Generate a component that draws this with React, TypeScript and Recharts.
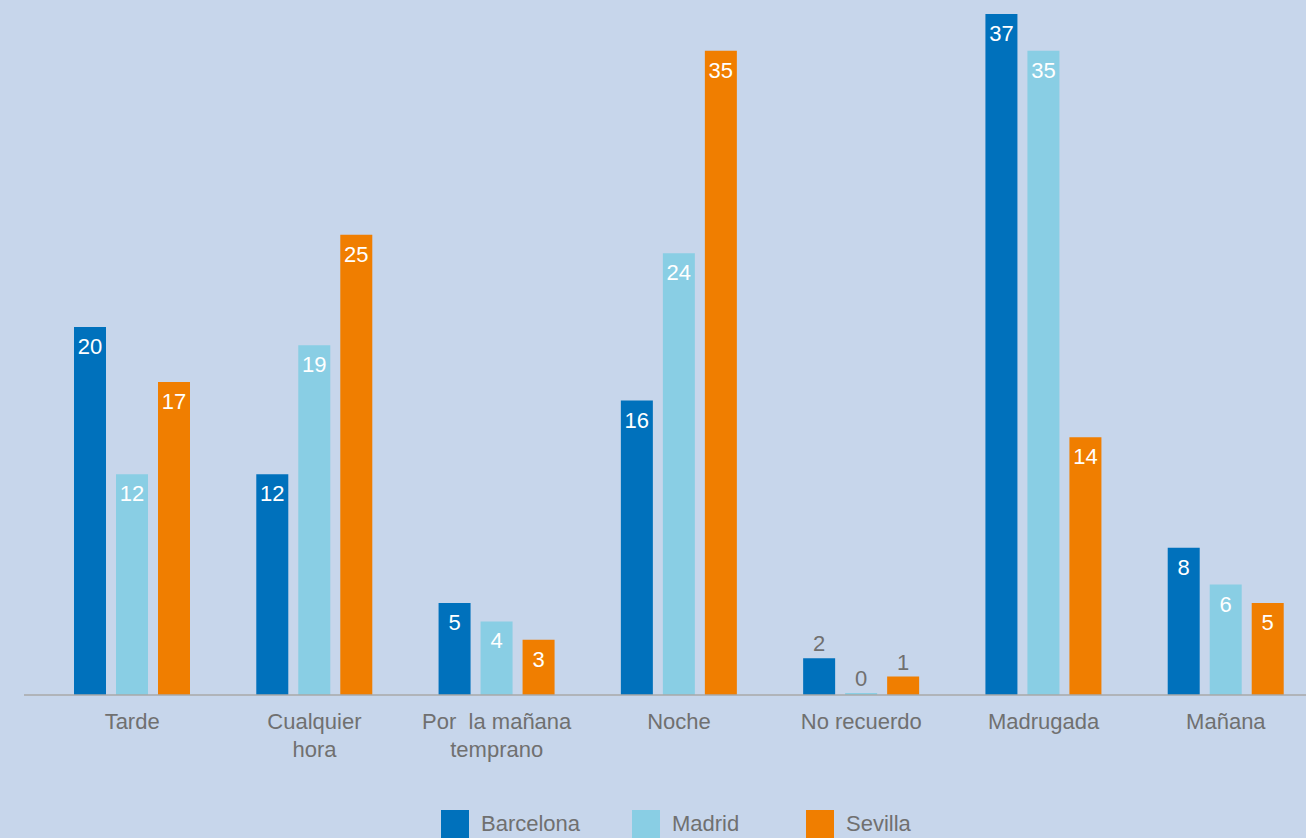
import React from "react";
import { BarChart, Bar, XAxis, YAxis, Legend, LabelList } from "recharts";

const categories = [
  "Tarde",
  "Cualquier\nhora",
  "Por  la mañana\ntemprano",
  "Noche",
  "No recuerdo",
  "Madrugada",
  "Mañana",
];
const barcelona = [20, 12, 5, 16, 2, 37, 8];
const madrid = [12, 19, 4, 24, 0, 35, 6];
const sevilla = [17, 25, 3, 35, 1, 14, 5];
const seriesNames = ["Barcelona", "Madrid", "Sevilla"];

const COLORS = ["#0071bc", "#89cee4", "#f07e00"];
const FONT = "'Liberation Sans', Arial, Helvetica, sans-serif";
const GREY = "#707070";

const data = categories.map((c, i) => ({
  name: c,
  Barcelona: barcelona[i],
  Madrid: madrid[i],
  Sevilla: sevilla[i],
}));

const Tick = (props: any) => {
  const { x, y, payload } = props;
  const lines = String(payload.value).split("\n");
  return (
    <g transform={`translate(${x},${y})`}>
      <text
        textAnchor="middle"
        fill={GREY}
        fontSize={22}
        fontFamily={FONT}
        xmlSpace="preserve"
        style={{ whiteSpace: "pre" }}
      >
        {lines.map((l, i) => (
          <tspan key={i} x={0} dy={i === 0 ? 34 : 28}>
            {l}
          </tspan>
        ))}
      </text>
    </g>
  );
};

const renderLabel = (props: any) => {
  const { x, y, width, value } = props;
  const cx = Number(x) + Number(width) / 2;
  const outside = Number(value) <= 2;
  return (
    <text
      x={cx}
      y={outside ? Number(y) - 7 : Number(y) + 27}
      textAnchor="middle"
      fill={outside ? GREY : "#ffffff"}
      fontSize={22}
      fontFamily={FONT}
    >
      {value}
    </text>
  );
};

const widths = [191, 174, 150];
const LegendContent = (props: any) => {
  const payload = props.payload || [];
  return (
    <div style={{ display: "flex", height: 28, paddingLeft: 441, fontFamily: FONT }}>
      {payload.map((p: any, i: number) => (
        <div key={i} style={{ display: "flex", alignItems: "center", width: widths[i], height: 28 }}>
          <div style={{ width: 28, height: 28, background: p.color }} />
          <span style={{ marginLeft: 12, fontSize: 22, lineHeight: "28px", color: GREY }}>{p.value}</span>
        </div>
      ))}
    </div>
  );
};

export default function App() {
  return (
    <div
      style={{
        position: "absolute",
        left: 0,
        top: 0,
        width: 1306,
        height: 838,
        overflow: "hidden",
        background: "#c7d6eb",
      }}
    >
      <BarChart
        width={1327}
        height={838}
        data={data}
        margin={{ top: 14, right: 10, bottom: 25, left: 24 }}
        barSize={32}
        barGap={10}
      >
        <XAxis
          dataKey="name"
          interval={0}
          tickLine={false}
          tickSize={0}
          tickMargin={0}
          height={90}
          padding={{ left: 17, right: 0 }}
          axisLine={{ stroke: "#a9a9a9", strokeWidth: 1.5 }}
          tick={<Tick />}
        />
        <YAxis hide domain={[0, 37]} />
        <Legend
          verticalAlign="bottom"
          content={<LegendContent />}
          wrapperStyle={{ top: 810, left: 0, width: 1306, height: 28 }}
        />
        {seriesNames.map((s, i) => (
          <Bar
            key={s}
            dataKey={s}
            fill={COLORS[i]}
            isAnimationActive={false}
            minPointSize={s === "Madrid" ? 2 : 0}
          >
            <LabelList dataKey={s} content={renderLabel} />
          </Bar>
        ))}
      </BarChart>
    </div>
  );
}
